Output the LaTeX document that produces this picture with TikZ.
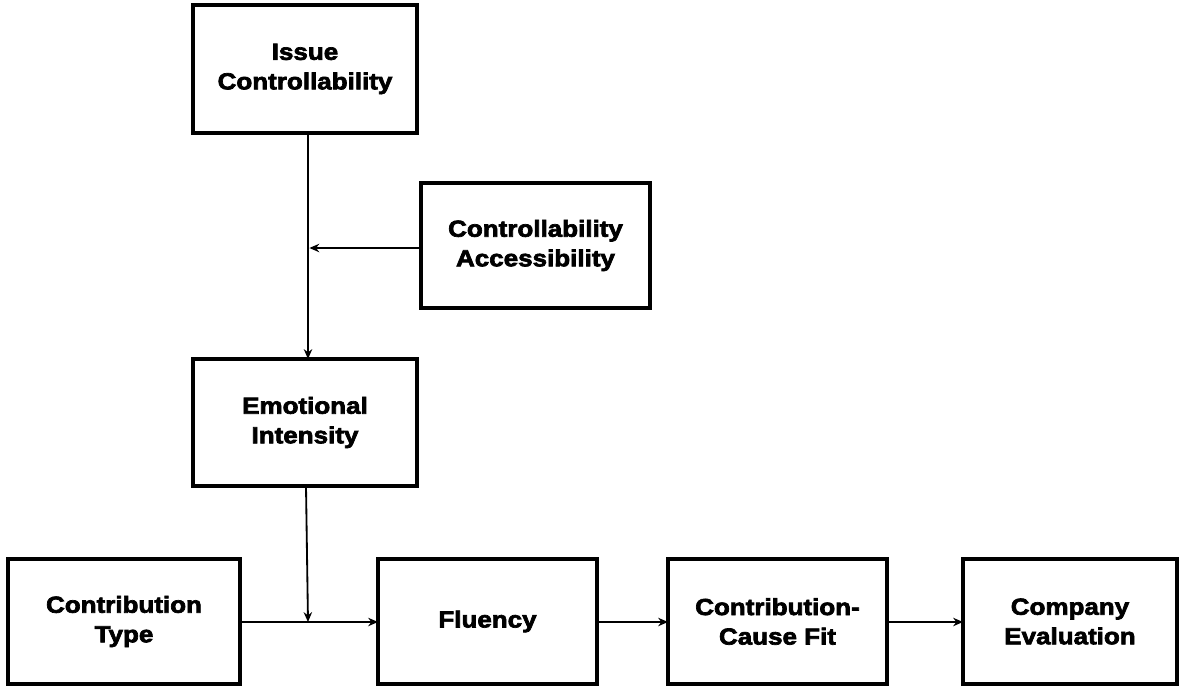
\documentclass[tikz,border=0pt]{standalone}
\usepackage{fontspec}
\setmainfont{Liberation Sans}[BoldFeatures={FakeBold=3, FakeStretch=1.12}]
\usepackage{tikz}
\usetikzlibrary{arrows.meta}

\begin{document}
\begin{tikzpicture}[x=0.025cm, y=-0.025cm,
    box/.style={draw=black, line width=2.2pt, fill=white, align=center, inner sep=0pt, outer sep=0pt,
        font=\fontsize{16.5}{21}\selectfont\bfseries},
    link/.style={line width=1.3pt, -{Stealth[length=7pt, width=6pt]}}]
    \useasboundingbox (0,0) rectangle (1180,686);

    % Boxes
    \node[box, minimum width=224*0.025cm, minimum height=128*0.025cm] (issue) at (305, 69) {Issue\\Controllability};
    \node[box, minimum width=229*0.025cm, minimum height=125*0.025cm] (access) at (535.5, 245.5) {Controllability\\Accessibility};
    \node[box, minimum width=224*0.025cm, minimum height=127*0.025cm] (emotion) at (305, 422.5) {Emotional\\Intensity};
    \node[box, minimum width=232*0.025cm, minimum height=125*0.025cm] (ctype) at (124, 621.5) {Contribution\\Type};
    \node[box, minimum width=219*0.025cm, minimum height=125*0.025cm] (fluency) at (487.5, 621.5) {Fluency};
    \node[box, minimum width=219*0.025cm, minimum height=125*0.025cm] (fit) at (777.5, 621.5) {Contribution-\\Cause Fit};
    \node[box, minimum width=214*0.025cm, minimum height=125*0.025cm] (company) at (1070, 621.5) {Company\\Evaluation};

    % Junctions on the paths
    \coordinate (top) at (308, 133);
    \coordinate (mid) at (308, 248);
    \coordinate (low) at (308, 622);
    \coordinate (emofoot) at (306, 486);

    % Arrows
    \draw[link] (top) -- (top |- emotion.north);
    \draw[link] (access.west |- mid) -- ([xshift=1]mid);
    \draw[link] (emofoot) -- (low);
    \draw[link] (ctype.east |- low) -- (fluency.west |- low);
    \draw[link] (fluency.east |- low) -- (fit.west |- low);
    \draw[link] (fit.east |- low) -- (company.west |- low);

\end{tikzpicture}
\end{document}
